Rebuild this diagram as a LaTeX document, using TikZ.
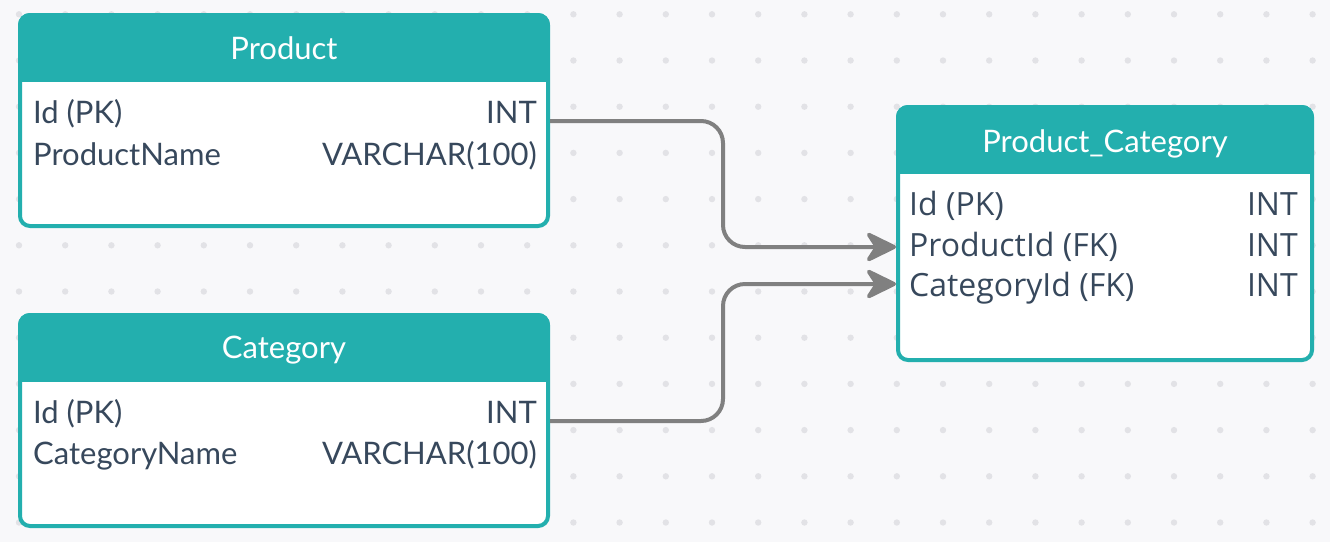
\documentclass[tikz,border=0pt]{standalone}
\usepackage{fontspec}
\newfontfamily\latofont{Lato}
\newfontfamily\opensansfont{Open Sans}
\usetikzlibrary{arrows.meta,calc}

\definecolor{tealhdr}{HTML}{23AFAE}
\definecolor{fieldtext}{HTML}{37485C}
\definecolor{canvasbg}{HTML}{F8F8FA}
\definecolor{griddot}{HTML}{E2E2E6}
\definecolor{fkline}{HTML}{808080}

\tikzset{
  tbl/.style={draw=tealhdr, line width=4pt, fill=white, rounded corners=10pt, inner sep=0pt, anchor=north west},
  tbltitle/.style={text=white, inner sep=0pt, anchor=base},
  field/.style={text=fieldtext, inner sep=0pt, anchor=base west},
  ftype/.style={text=fieldtext, inner sep=0pt, anchor=base east},
  fk/.style={draw=fkline, line width=4pt, rounded corners=22pt, -{Stealth[length=35pt,width=34pt,inset=11pt,round]}},
}

\begin{document}
\begin{tikzpicture}[x=1pt,y=-1pt]
  \fill[canvasbg] (0,0) rectangle (1330,542);
  \useasboundingbox (0,0) rectangle (1330,542);

  % dotted canvas
  \foreach \i in {0,...,28}
    \foreach \j in {0,...,11}
      \fill[griddot] (19+46.2*\i,14.3+46.2*\j) circle (3.2pt);

  % Product
  \node[tbl, minimum width=528pt, minimum height=211pt] (prod) at (18,13) {};
  \begin{scope}
    \clip[rounded corners=12pt] (prod.north west) rectangle (prod.south east);
    \fill[tealhdr] (prod.north west) rectangle (prod.east |- 0,82);
  \end{scope}
  \begin{scope}[font=\latofont\fontsize{31}{36}\selectfont]
    \node[tbltitle] (prod-title) at (prod.north |- 0,59) {Product};
    \node[field] (prod-id) at (33,123) {Id (PK)};
    \node[ftype] (prod-id-type) at (537,123) {INT};
    \node[field] (prod-name) at (33,165) {ProductName};
    \node[ftype] (prod-name-type) at (537,165) {VARCHAR(100)};
  \end{scope}

  % Category
  \node[tbl, minimum width=528pt, minimum height=211pt] (cat) at (18,313) {};
  \begin{scope}
    \clip[rounded corners=12pt] (cat.north west) rectangle (cat.south east);
    \fill[tealhdr] (cat.north west) rectangle (cat.east |- 0,382);
  \end{scope}
  \begin{scope}[font=\latofont\fontsize{31}{36}\selectfont]
    \node[tbltitle] (cat-title) at (cat.north |- 0,358) {Category};
    \node[field] (cat-id) at (33,423) {Id (PK)};
    \node[ftype] (cat-id-type) at (537,423) {INT};
    \node[field] (cat-name) at (33,464) {CategoryName};
    \node[ftype] (cat-name-type) at (537,464) {VARCHAR(100)};
  \end{scope}

  % Product_Category
  \node[tbl, minimum width=414pt, minimum height=253pt] (pc) at (896,105) {};
  \begin{scope}
    \clip[rounded corners=12pt] (pc.north west) rectangle (pc.south east);
    \fill[tealhdr] (pc.north west) rectangle (pc.east |- 0,174);
  \end{scope}
  \node[tbltitle, font=\latofont\fontsize{31}{36}\selectfont] (pc-title) at (pc.north |- 0,152) {Product\_Category};
  \begin{scope}[font=\opensansfont\fontsize{32}{38}\selectfont]
    \node[field] (pc-id) at (909,215) {Id (PK)};
    \node[ftype] (pc-id-type) at (1298,215) {INT};
    \node[field] (pc-pid) at (909,256) {ProductId (FK)};
    \node[ftype] (pc-pid-type) at (1298,256) {INT};
    \node[field] (pc-cid) at (909,296) {CategoryId (FK)};
    \node[ftype] (pc-cid-type) at (1298,296) {INT};
  \end{scope}

  % foreign keys
  \draw[fk] ($(prod.east |- prod-id.base)+(0,-2)$) -| ($(prod.east)!.5!(pc.west)$)
    |- ($(pc.west |- pc-pid.base)+(0,-9)$);
  \draw[fk] ($(cat.east |- cat-id.base)+(0,-2)$) -| ($(cat.east)!.5!(pc.west)$)
    |- ($(pc.west |- pc-cid.base)+(0,-12)$);
\end{tikzpicture}
\end{document}
